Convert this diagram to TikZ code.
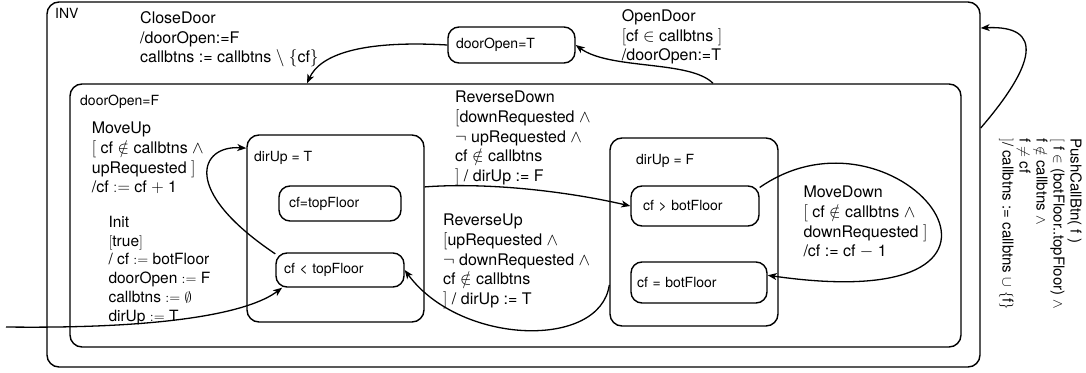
\documentclass[tikz,border=0pt]{standalone}
\usepackage{amsmath,amssymb}
\usepackage{fontspec}
\setmainfont{TeX Gyre Heros}
\usetikzlibrary{arrows.meta}

\tikzset{
  region/.style={draw, line width=1.4pt, rounded corners=12pt, inner sep=0pt},
  state/.style={draw, line width=1.4pt, rounded corners=11pt, align=left, inner xsep=8pt, inner ysep=0pt, font=\fontsize{14}{17}\selectfont},
  boxlabel/.style={anchor=north west, inner sep=0pt, font=\fontsize{14}{17}\selectfont},
  trans/.style={anchor=north west, inner sep=0pt, align=left, font=\fontsize{16}{19.6}\selectfont},
  move/.style={->, line width=1.3pt},
}

\begin{document}
\begin{tikzpicture}[x=1pt, y=-1pt, >={Stealth[length=9pt,width=7pt,inset=2.5pt]}]
        \useasboundingbox (0,0) rectangle (1086,372);

        % Regions
        \node [region, minimum width=933pt, minimum height=365pt] (inv) at (513.5,184.5) {};
        \node [region, minimum width=891pt, minimum height=263pt] (dfalse) at (515.5,215.5) {};
        \node [region, minimum width=177pt, minimum height=187pt] (dirupT) at (335.5,228.5) {};
        \node [region, minimum width=168pt, minimum height=188pt] (dirupF) at (694,232) {};
        \node [boxlabel] (invtag) at (55,8) {INV};
        \node [boxlabel] (dfalsetag) at (80,95) {doorOpen=F};
        \node [boxlabel] (dirupTtag) at (254,151.5) {dirUp = T};
        \node [boxlabel] (dirupFtag) at (636,154) {dirUp = F};

        % States
        \node [state, text width=111pt, minimum height=36pt] (dtrue) at (511.5,45) {doorOpen=T};
        \node [state, inner xsep=10pt, text width=102pt, minimum height=35pt] (cftop) at (340,203.5) {cf=topFloor};
        \node [state, text width=112pt, minimum height=34pt] (cfltop) at (340,270) {cf < topFloor};
        \node [state, inner xsep=12pt, text width=104pt, minimum height=40pt] (cfgtbot) at (695,206) {cf > botFloor};
        \node [state, inner xsep=6pt, text width=124pt, minimum height=41pt] (cfbot) at (699,282.5) {cf = botFloor};

        % Labels
        \node [trans] (closelbl) at (140,11.5) {CloseDoor\\/doorOpen:=F\\callbtns := callbtns $\setminus$ $\{$cf$\}$};
        \node [trans] (openlbl) at (621.7,9.5) {OpenDoor\\$[$cf $\in$ callbtns $]$\\/doorOpen:=T};
        \node [trans] (revdownlbl) at (455,91) {ReverseDown\\$[$downRequested $\wedge$\\$\neg$ upRequested $\wedge$\\cf $\notin$ callbtns\\$]$ / dirUp := F};
        \node [trans] (revuplbl) at (443,214) {ReverseUp\\$[$upRequested $\wedge$\\$\neg$ downRequested $\wedge$\\cf $\notin$ callbtns\\$]$ / dirUp := T};
        \node [trans] (moveuplbl) at (91.7,122) {MoveUp\\$[$ cf $\notin$ callbtns $\wedge$\\upRequested $]$\\/cf $:=$ cf $+$ 1};
        \node [trans, font=\fontsize{15.5}{18.7}\selectfont] (initlbl) at (108.3,216) {Init\\$[$true$]$\\/ cf $:=$ botFloor\\doorOpen $:=$ F\\callbtns $:=$ $\emptyset$\\dirUp $:=$ T};
        \node [trans] (movedownlbl) at (803.3,186) {MoveDown\\$[$ cf $\notin$ callbtns $\wedge$\\downRequested $]$\\/cf := cf $-$ 1};
        \node [trans, rotate=-90, font=\fontsize{15}{17}\selectfont] (pushlbl) at (1082,138) {PushCallBtn( f )\\$[$ f $\in$ (botFloor..topFloor) $\wedge$\\f $\notin$ callbtns $\wedge$\\f $\neq$ cf\\$]$/ callbtns := callbtns $\cup$ $\{$f$\}$};

        % Transitions
        \coordinate (start) at (6,327);
        \draw [move] (start) .. controls (170,329) and (250,312) .. (cfltop.197);
        \draw [move] (cfltop.166) .. controls (180,190) and (200,145) .. (dirupT.138);
        \draw [move] (dirupT.25) .. controls (490,182) and (570,192) .. (cfgtbot.west);
        \draw [move] (dirupF.212) .. controls (600,350) and (460,345) .. (cfltop.east);
        \draw [move] (cfgtbot.16) .. controls (900,90) and (1080,320) .. (cfbot.6);
        \draw [move] ([xshift=197.5pt]dfalse.north) .. controls (690,60) and (610,70) .. (dtrue.east);
        \draw [move] (dtrue.west) .. controls (360,40) and (320,55) .. ([xshift=-208.5pt]dfalse.north);
        \draw [move] ([yshift=56.5pt]inv.east) .. controls (1035,65) and (1045,25) .. ([yshift=156.5pt]inv.east);
    \end{tikzpicture}
\end{document}
